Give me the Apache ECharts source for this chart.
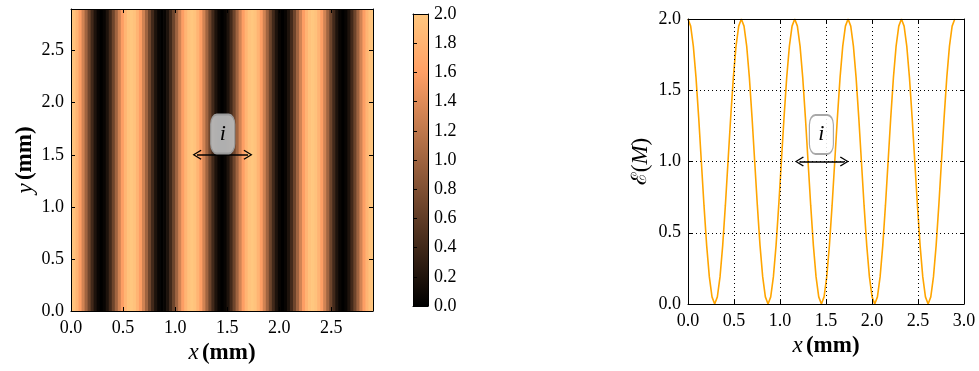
<!DOCTYPE html>
<html>
<head>
<meta charset="utf-8">
<script src="https://cdn.jsdelivr.net/npm/echarts@6/dist/echarts.min.js"></script>
<style>
  html, body { margin: 0; padding: 0; background: #fff; }
  #chart { width: 979px; height: 371px; }
</style>
</head>
<body>
<div id="chart"></div>
<script>
// sample positions across the pattern (mm)
const fringeX = [
  0, 0.029, 0.058, 0.087, 0.116, 0.145, 0.174, 0.203, 0.232, 0.261,
  0.29, 0.319, 0.348, 0.377, 0.406, 0.435, 0.464, 0.493, 0.522, 0.551,
  0.58, 0.609, 0.638, 0.667, 0.696, 0.725, 0.754, 0.783, 0.812, 0.841,
  0.87, 0.899, 0.928, 0.957, 0.986, 1.015, 1.044, 1.073, 1.102, 1.131,
  1.16, 1.189, 1.218, 1.247, 1.276, 1.305, 1.334, 1.363, 1.392, 1.421,
  1.45, 1.479, 1.508, 1.537, 1.566, 1.595, 1.624, 1.653, 1.682, 1.711,
  1.74, 1.769, 1.798, 1.827, 1.856, 1.885, 1.914, 1.943, 1.972, 2.001,
  2.03, 2.059, 2.088, 2.117, 2.146, 2.175, 2.204, 2.233, 2.262, 2.291,
  2.32, 2.349, 2.378, 2.407, 2.436, 2.465, 2.494, 2.523, 2.552, 2.581,
  2.61, 2.639, 2.668, 2.697, 2.726, 2.755, 2.784, 2.813, 2.842, 2.871,
  2.9
]

// illumination E(M) read at each position
const fringeVal = [
  2.00, 1.95, 1.81, 1.59, 1.31, 1.00, 0.69, 0.41, 0.19, 0.05,
  0.00, 0.05, 0.19, 0.41, 0.69, 1.00, 1.31, 1.59, 1.81, 1.95,
  2.00, 1.95, 1.81, 1.59, 1.31, 1.00, 0.69, 0.41, 0.19, 0.05,
  0.00, 0.05, 0.19, 0.41, 0.69, 1.00, 1.31, 1.59, 1.81, 1.95,
  2.00, 1.95, 1.81, 1.59, 1.31, 1.00, 0.69, 0.41, 0.19, 0.05,
  0.00, 0.05, 0.19, 0.41, 0.69, 1.00, 1.31, 1.59, 1.81, 1.95,
  2.00, 1.95, 1.81, 1.59, 1.31, 1.00, 0.69, 0.41, 0.19, 0.05,
  0.00, 0.05, 0.19, 0.41, 0.69, 1.00, 1.31, 1.59, 1.81, 1.95,
  2.00, 1.95, 1.81, 1.59, 1.31, 1.00, 0.69, 0.41, 0.19, 0.05,
  0.00, 0.05, 0.19, 0.41, 0.69, 1.00, 1.31, 1.59, 1.81, 1.95,
  2.00
]

// copper colormap, stops at 0, 0.4, 0.8, 1.2, 1.6, 2.0
const copper = ['#000000', '#402819', '#805033', '#bf784c', '#ff9f65', '#ffc77f']

// annotation: fringe spacing i
const spanStart = 1.21
const spanEnd = 1.70
const leftArrowY = 1.5
const rightArrowY = 1.0
const leftBox = [1.457, 1.70]
const rightBox = [1.45, 1.19]

const patternSize = 2.9

const serif = 'Liberation Serif'
const tickFont = { fontFamily: serif, fontSize: 18, color: '#000' }
const nameRich = {
  it: { fontFamily: serif, fontStyle: 'italic', fontSize: 23, color: '#000' },
  bf: { fontFamily: serif, fontWeight: 'bold', fontSize: 23, color: '#000' },
  sc: { fontFamily: 'DejaVu Serif', fontSize: 21, color: '#000' },
  n: { fontFamily: serif, fontSize: 23, color: '#000' }
}
const fmt = v => v.toFixed(1)
const tick = { show: true, inside: true, length: 4, lineStyle: { color: '#000', width: 1 } }
const frame = { show: true, onZero: false, lineStyle: { color: '#000', width: 1 } }
const chevron = 'path://M5,0 L10,8 L9,8.8 L5,2.2 L1,8.8 L0,8 Z'

const chart = echarts.init(document.getElementById('chart'))

function pairs() {
  return fringeX.map((x, i) => [x, fringeVal[i]])
}

function arrowLine(y) {
  return {
    silent: true,
    animation: false,
    symbol: [chevron, chevron],
    symbolSize: [10, 9],
    label: { show: false },
    lineStyle: { color: '#000', width: 1.5, type: 'solid' },
    emphasis: { disabled: true },
    data: [[{ coord: [spanStart, y] }, { coord: [spanEnd, y] }]]
  }
}

function boxPoint(pos, fill, border) {
  return {
    silent: true,
    animation: false,
    symbol: 'roundRect',
    symbolSize: [24, 39],
    itemStyle: { color: fill, borderColor: border, borderWidth: 1.5 },
    label: {
      show: true,
      position: 'inside',
      formatter: 'i',
      fontFamily: serif,
      fontStyle: 'italic',
      fontSize: 22,
      color: '#000'
    },
    data: [{ coord: pos }]
  }
}

chart.setOption({
  animation: false,
  grid: [
    { left: 71, top: 9, width: 302, height: 302 },
    { left: 413, top: 14, width: 15, height: 292 },
    { left: 688, top: 19, width: 276, height: 285 }
  ],
  visualMap: {
    type: 'continuous',
    show: false,
    min: 0,
    max: 2,
    dimension: 1,
    seriesIndex: 0,
    inRange: { color: copper }
  },
  xAxis: [
    {
      gridIndex: 0, type: 'value', min: 0, max: patternSize, interval: 0.5, z: 5,
      axisLine: frame, axisTick: tick, splitLine: { show: false },
      axisLabel: Object.assign({ formatter: fmt, margin: 8, showMaxLabel: false }, tickFont),
      name: '{it|x} {bf|(mm)}', nameLocation: 'middle', nameGap: 26,
      nameTextStyle: { rich: nameRich }
    },
    {
      gridIndex: 0, type: 'value', position: 'top', min: 0, max: patternSize, interval: 0.5, z: 5,
      axisLine: frame, axisTick: tick, splitLine: { show: false }, axisLabel: { show: false }
    },
    {
      gridIndex: 1, type: 'value', min: 0, max: 1, z: 5,
      axisLine: frame, axisTick: { show: false }, axisLabel: { show: false }, splitLine: { show: false }
    },
    {
      gridIndex: 2, type: 'value', min: 0, max: 3, interval: 0.5, z: 5,
      axisLine: frame, axisTick: tick,
      splitLine: { show: true, lineStyle: { color: '#000', width: 1, type: [1, 3] } },
      axisLabel: Object.assign({ formatter: fmt, margin: 8 }, tickFont),
      name: '{it|x} {bf|(mm)}', nameLocation: 'middle', nameGap: 26,
      nameTextStyle: { rich: nameRich }
    },
    {
      gridIndex: 2, type: 'value', position: 'top', min: 0, max: 3, interval: 0.5, z: 5,
      axisLine: frame, axisTick: tick, splitLine: { show: false }, axisLabel: { show: false }
    },
    {
      gridIndex: 1, type: 'value', position: 'top', min: 0, max: 1, z: 5,
      axisLine: frame, axisTick: { show: false }, axisLabel: { show: false }, splitLine: { show: false }
    }
  ],
  yAxis: [
    {
      gridIndex: 0, type: 'value', min: 0, max: patternSize, interval: 0.5, z: 5,
      axisLine: frame, axisTick: tick, splitLine: { show: false },
      axisLabel: Object.assign({ formatter: fmt, margin: 7, showMaxLabel: false }, tickFont),
      name: '{it|y} {bf|(mm)}', nameLocation: 'middle', nameGap: 34,
      nameTextStyle: { rich: nameRich }
    },
    {
      gridIndex: 0, type: 'value', position: 'right', min: 0, max: patternSize, interval: 0.5, z: 5,
      axisLine: frame, axisTick: tick, splitLine: { show: false }, axisLabel: { show: false }
    },
    {
      gridIndex: 1, type: 'value', position: 'right', min: 0, max: 2, interval: 0.2, z: 5,
      axisLine: frame, axisTick: { show: false }, splitLine: { show: false },
      axisLabel: Object.assign({ formatter: fmt, margin: 6 }, tickFont)
    },
    {
      gridIndex: 1, type: 'value', position: 'left', min: 0, max: 2, interval: 0.2, z: 5,
      axisLine: frame, axisTick: tick, splitLine: { show: false }, axisLabel: { show: false }
    },
    {
      gridIndex: 2, type: 'value', min: 0, max: 2, interval: 0.5, z: 5,
      axisLine: frame, axisTick: tick,
      splitLine: { show: true, lineStyle: { color: '#000', width: 1, type: [1, 3] } },
      axisLabel: Object.assign({ formatter: fmt, margin: 7 }, tickFont),
      name: '{sc|ℰ}{n|(}{it|M}{n|)}', nameLocation: 'middle', nameGap: 36,
      nameTextStyle: { rich: nameRich }
    },
    {
      gridIndex: 2, type: 'value', position: 'right', min: 0, max: 2, interval: 0.5, z: 5,
      axisLine: frame, axisTick: tick, splitLine: { show: false }, axisLabel: { show: false }
    }
  ],
  series: [
    {
      // interference pattern, one column per sample
      type: 'custom',
      xAxisIndex: 0,
      yAxisIndex: 0,
      clip: true,
      silent: true,
      data: pairs(),
      encode: { x: 0, y: 1 },
      renderItem: function (params, api) {
        const i = params.dataIndex
        const x = api.value(0)
        const prev = i > 0 ? fringeX[i - 1] : x
        const next = i < fringeX.length - 1 ? fringeX[i + 1] : x
        const p0 = api.coord([(prev + x) / 2, patternSize])
        const p1 = api.coord([(x + next) / 2, 0])
        return {
          type: 'rect',
          shape: { x: p0[0], y: p0[1], width: p1[0] - p0[0] + 0.7, height: p1[1] - p0[1] },
          style: { fill: api.visual('color') }
        }
      }
    },
    {
      // annotation on the pattern
      type: 'line',
      xAxisIndex: 0,
      yAxisIndex: 1,
      data: [],
      markLine: arrowLine(leftArrowY),
      markPoint: boxPoint(leftBox, 'rgba(190,190,190,0.92)', '#9a9a9a')
    },
    {
      // colorbar
      type: 'custom',
      xAxisIndex: 2,
      yAxisIndex: 2,
      silent: true,
      data: [[0, 2]],
      renderItem: function (params, api) {
        const p0 = api.coord([0, 2])
        const p1 = api.coord([1, 0])
        return {
          type: 'rect',
          shape: { x: p0[0], y: p0[1], width: p1[0] - p0[0], height: p1[1] - p0[1] },
          style: {
            fill: new echarts.graphic.LinearGradient(0, 1, 0, 0,
              copper.map((c, k) => ({ offset: k / (copper.length - 1), color: c })))
          }
        }
      }
    },
    {
      type: 'line',
      xAxisIndex: 3,
      yAxisIndex: 4,
      data: pairs(),
      showSymbol: false,
      smooth: false,
      silent: true,
      lineStyle: { color: '#ffa500', width: 1.6 },
      markLine: arrowLine(rightArrowY),
      markPoint: boxPoint(rightBox, 'rgba(255,255,255,0.85)', '#a8a8a8')
    }
  ]
})
</script>
</body>
</html>
